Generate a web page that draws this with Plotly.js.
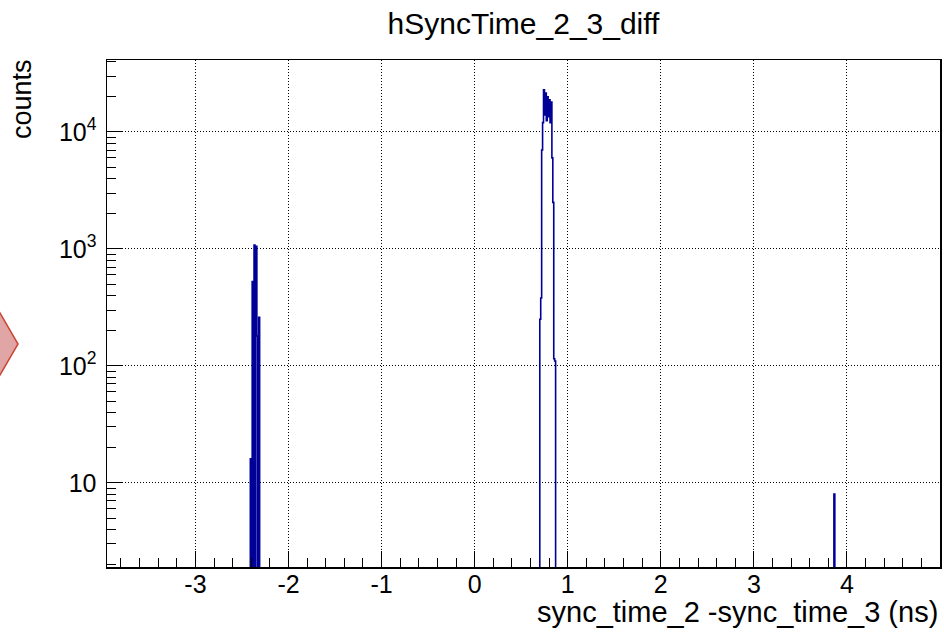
<!DOCTYPE html>
<html>
<head>
<meta charset="utf-8">
<script src="https://cdn.plot.ly/plotly-3.0.1.min.js"></script>
<style>html,body{margin:0;padding:0;background:#fff;}#chart{width:944px;height:632px;}</style>
</head>
<body>
<div id="chart"></div>
<script>
// ---- data (histogram bins, width 0.01 ns) ----
const binWidth = 0.01;
const binLowEdges = [
  -2.41, -2.40, -2.39, -2.38, -2.37, -2.36, -2.35, -2.34, -2.33, -2.32,
  0.70, 0.71, 0.72, 0.73, 0.74, 0.75, 0.76, 0.77, 0.78, 0.79, 0.80, 0.81, 0.82, 0.83, 0.84, 0.85, 0.86,
  3.86
];
const binCounts = [
  16, 0, 525, 0, 1080, 0, 1050, 180, 0, 260,
  250, 380, 7000, 12000, 22900, 14000, 21500, 12500, 20000, 13500, 18800, 12000, 18000, 6000, 2500, 115, 110,
  8
];
const yTickVals = [10, 100, 1000, 10000];
const yTickText = ['10', '10<sup>2</sup>', '10<sup>3</sup>', '10<sup>4</sup>'];
const xTickVals = [-3, -2, -1, 0, 1, 2, 3, 4];
const xTickText = ['-3', '-2', '-1', '0', '1', '2', '3', '4'];
const titleText = 'hSyncTime_2_3_diff';
const xTitleText = 'sync_time_2 -sync_time_3 (ns)';
const yTitleText = 'counts';

// ---- build ROOT-style step outline ----
const FLOOR = 0.1; // empty bins drawn below the axis minimum
const xs = [], ys = [];
for (let i = 0; i < binLowEdges.length; i++) {
  const lo = binLowEdges[i];
  const contiguous = i > 0 && Math.abs(lo - (binLowEdges[i - 1] + binWidth)) < 1e-9;
  if (!contiguous) {
    if (i > 0) { xs.push(binLowEdges[i - 1] + binWidth); ys.push(FLOOR); }
    xs.push(lo); ys.push(FLOOR);
  }
  xs.push(lo); ys.push(binCounts[i] > 0 ? binCounts[i] : FLOOR);
}
xs.push(binLowEdges[binLowEdges.length - 1] + binWidth); ys.push(FLOOR);

const L = 107, R = 4, T = 60, B = 65, W = 944, H = 632;
const pw = W - L - R, ph = H - T - B;
const px = v => (v - L) / pw;
const py = v => (H - B - v) / ph;

const font = 'Liberation Sans, Arial, Helvetica, sans-serif';
const trace = {
  type: 'scatter', mode: 'lines', x: xs, y: ys,
  line: {shape: 'hv', color: '#000099', width: 1.6},
  hoverinfo: 'skip', showlegend: false
};

const layout = {
  width: W, height: H,
  margin: {l: L, r: R, t: T, b: B, pad: 0},
  paper_bgcolor: '#fff', plot_bgcolor: '#fff',
  font: {family: font, color: '#000'},
  title: {text: titleText, font: {family: font, size: 30, color: '#000'},
          xref: 'paper', x: 0.5, xanchor: 'center', yref: 'container', y: 1 - 23 / H, yanchor: 'middle'},
  xaxis: {
    range: [-3.95, 5.0], showline: true, mirror: true, linecolor: '#000', linewidth: 1.5,
    ticks: 'inside', ticklen: 16, tickwidth: 1, tickcolor: '#000',
    tickvals: xTickVals, ticktext: xTickText, tickfont: {family: font, size: 25, color: '#000'},
    ticklabelstandoff: -6,
    showgrid: true, gridcolor: '#000', gridwidth: 1, griddash: '1px,2px',
    zeroline: false,
    minor: {dtick: 0.2, tick0: 0, ticks: 'inside', ticklen: 9, tickcolor: '#000', tickwidth: 1, showgrid: false}
  },
  yaxis: {
    type: 'log', range: [0.28, 4.615], showline: true, mirror: true, linecolor: '#000', linewidth: 1.5,
    ticks: 'inside', ticklen: 16, tickwidth: 1, tickcolor: '#000',
    tickvals: yTickVals, ticktext: yTickText, tickfont: {family: font, size: 25, color: '#000'},
    ticklabelstandoff: 4,
    showgrid: true, gridcolor: '#000', gridwidth: 1, griddash: '1px,2px',
    zeroline: false,
    minor: {dtick: 'D1', ticks: 'inside', ticklen: 9, tickcolor: '#000', tickwidth: 1, showgrid: false}
  },
  annotations: [
    {text: yTitleText, textangle: -90, showarrow: false, xref: 'paper', yref: 'paper',
     x: px(22), xanchor: 'center', y: py(57), yanchor: 'top', font: {family: font, size: 27, color: '#000'}},
    {text: xTitleText, showarrow: false, xref: 'paper', yref: 'paper',
     x: 1, xanchor: 'right', y: py(612), yanchor: 'middle', font: {family: font, size: 29, color: '#000'}}
  ],
  shapes: [
    {type: 'path', xref: 'paper', yref: 'paper', layer: 'above',
     path: 'M ' + px(-4) + ' ' + py(306) + ' L ' + px(18) + ' ' + py(344) + ' L ' + px(-4) + ' ' + py(382) + ' Z',
     fillcolor: 'rgb(226,165,165)', line: {color: 'rgb(200,70,50)', width: 1.5}}
  ]
};

Plotly.newPlot('chart', [trace], layout, {displayModeBar: false, staticPlot: true});
</script>
</body>
</html>
